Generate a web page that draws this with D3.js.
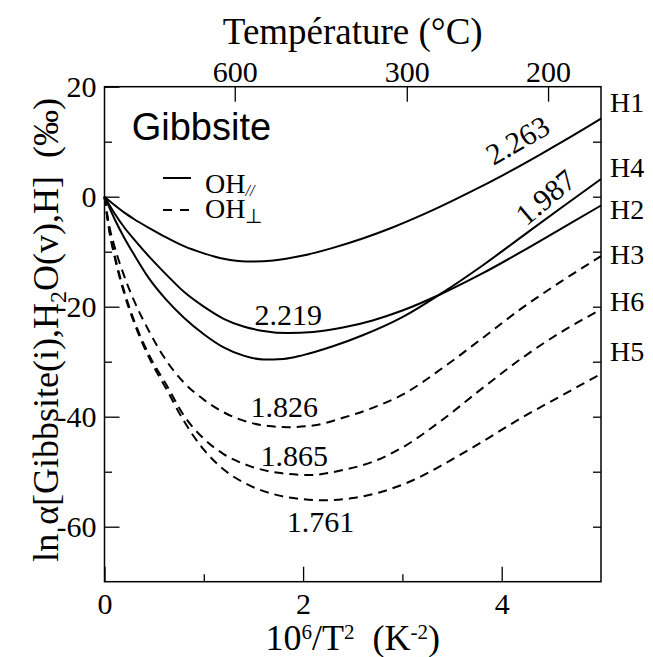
<!DOCTYPE html>
<html><head><meta charset="utf-8">
<script src="https://cdn.jsdelivr.net/npm/d3@7"></script>
<style>
html,body{margin:0;padding:0;background:#fff;}
svg text{font-family:"Liberation Serif","Times New Roman",serif;fill:#000;}
</style></head>
<body><svg id="c" width="653" height="657"></svg>
<script>
// ---- data ----
const H1 = [[0,0],[0.1,-1.5],[0.2,-2.9],[0.3,-4.1],[0.46,-5.8],[0.6,-7.2],[0.8,-9.0],[1.0,-10.3],[1.2,-11.3],[1.43,-11.8],[1.7,-11.6],[2.0,-10.7],[2.3,-9.3],[2.6,-7.6],[2.9,-5.6],[3.3,-2.5],[3.7,1.0],[4.0,3.8],[4.4,7.8],[4.8,12.0],[5.0,14.2]];
const H2 = [[0,0],[0.1,-3.0],[0.2,-5.6],[0.3,-7.8],[0.45,-10.9],[0.63,-14.3],[0.8,-17.3],[1.0,-20.0],[1.2,-22.2],[1.4,-23.6],[1.6,-24.4],[1.85,-24.8],[2.1,-24.6],[2.4,-23.8],[2.7,-22.5],[3.0,-20.7],[3.4,-17.6],[3.8,-14.0],[4.2,-10.0],[4.6,-5.8],[5.0,-1.6]];
const H4 = [[0,0],[0.1,-4.0],[0.2,-7.5],[0.3,-10.6],[0.45,-14.9],[0.63,-18.9],[0.8,-22.0],[1.0,-25.0],[1.2,-27.4],[1.4,-28.9],[1.6,-29.6],[1.8,-29.5],[2.0,-28.8],[2.3,-27.2],[2.6,-25.2],[3.0,-21.9],[3.4,-17.5],[3.8,-12.6],[4.2,-7.3],[4.6,-2.0],[5.0,3.2]];
const H3 = [[0,0],[0.05,-5.5],[0.1,-9.0],[0.2,-14.5],[0.3,-19.0],[0.45,-24.5],[0.63,-30.0],[0.8,-33.8],[1.0,-36.9],[1.2,-39.2],[1.45,-41.0],[1.65,-41.7],[1.85,-41.9],[2.1,-41.6],[2.4,-40.2],[2.7,-38.4],[3.0,-36.0],[3.4,-31.2],[3.8,-25.8],[4.2,-20.3],[4.6,-15.4],[5.0,-10.8]];
const H6 = [[0,0],[0.05,-6.2],[0.1,-10.5],[0.2,-17.3],[0.3,-22.6],[0.45,-28.8],[0.63,-34.4],[0.8,-39.8],[1.0,-44.0],[1.2,-46.8],[1.45,-48.9],[1.75,-50.2],[2.06,-50.6],[2.4,-49.7],[2.7,-48.2],[3.0,-45.6],[3.4,-40.6],[3.8,-34.9],[4.2,-29.4],[4.6,-24.6],[5.0,-20.5]];
const H5 = [[0,0],[0.05,-6.4],[0.1,-10.8],[0.2,-17.7],[0.3,-23.0],[0.45,-29.3],[0.63,-35.2],[0.8,-40.8],[1.0,-46.0],[1.2,-49.6],[1.45,-52.4],[1.75,-54.3],[2.0,-55.0],[2.2,-55.2],[2.5,-54.8],[2.8,-53.6],[3.1,-51.6],[3.4,-48.8],[3.8,-44.6],[4.2,-40.2],[4.6,-36.2],[5.0,-32.2]];
const seriesNames = ["H1","H4","H2","H3","H6","H5"];
const seriesValues = [H1,H4,H2,H3,H6,H5];
const seriesDashed = [false,false,false,true,true,true];
const curveLabels = ["2.263","1.987","2.219","1.826","1.865","1.761"];
const xTicksMajor = [0,2,4];
const xTicksMinor = [1,3];
const yTicksMajor = [20,0,-20,-40,-60];
const yTicksMinor = [10,-10,-30,-50];
const yRightTicks = [10,0,-10,-20,-30,-40,-50,-60];
const tempTicks = [600,300,200];

// ---- layout ----
const svg = d3.select("#c");
const L=104.5, R=601, T=86.7, B=581.7;
const x = d3.scaleLinear().domain([0,5]).range([L,R]);
const y = d3.scaleLinear().domain([-70,20]).range([B,T]);

// curves
const line = d3.line().x(d=>x(d[0])).y(d=>y(d[1])).curve(d3.curveMonotoneX);
const g = svg.append("g");
seriesValues.forEach((s,i)=>{
  g.append("path").attr("d",line(s)).attr("fill","none").attr("stroke","#000")
   .attr("stroke-width",2).attr("stroke-dasharray",seriesDashed[i]?"9,6":null);
});

// axes
function styleAxis(sel){
  sel.select(".domain").remove();
  sel.selectAll("line").attr("stroke","#000").attr("stroke-width",1.3);
  sel.selectAll("text").attr("font-family","Liberation Serif").attr("font-size",30).attr("fill","#000");
}
svg.append("g").attr("transform",`translate(0,${B})`)
  .call(d3.axisBottom(x).tickValues(xTicksMajor).tickSize(-15).tickPadding(10).tickFormat(d3.format("d")))
  .call(styleAxis).selectAll("text").attr("dy","0.75em");
svg.append("g").attr("transform",`translate(0,${B})`)
  .call(d3.axisBottom(x).tickValues(xTicksMinor).tickSize(-7.5).tickFormat(""))
  .call(styleAxis);
svg.append("g").attr("transform",`translate(${L},0)`)
  .call(d3.axisLeft(y).tickValues(yTicksMajor).tickSize(-15).tickPadding(8).tickFormat(d=>d<0?"-"+Math.abs(d):d))
  .call(styleAxis);
svg.append("g").attr("transform",`translate(${L},0)`)
  .call(d3.axisLeft(y).tickValues(yTicksMinor).tickSize(-7.5).tickFormat(""))
  .call(styleAxis);
svg.append("g").attr("transform",`translate(${R},0)`)
  .call(d3.axisRight(y).tickValues(yRightTicks).tickSize(-8).tickFormat(""))
  .call(styleAxis);
const tx = t => 1e6/Math.pow(t+273.15,2);
svg.append("g").attr("transform",`translate(0,${T})`)
  .call(d3.axisTop(x).tickValues(tempTicks.map(tx)).tickSize(-15).tickPadding(5).tickFormat((d,i)=>tempTicks[i]))
  .call(styleAxis);

// frame
svg.append("rect").attr("x",L).attr("y",T).attr("width",R-L).attr("height",B-T)
  .attr("fill","none").attr("stroke","#000").attr("stroke-width",1.5);

// titles
svg.append("text").attr("x",(L+R)/2).attr("y",44).attr("text-anchor","middle").attr("font-size",37)
  .text("Température (°C)");
const xt = svg.append("text").attr("x",(L+R)/2).attr("y",650).attr("text-anchor","middle").attr("font-size",36);
xt.append("tspan").text("10");
xt.append("tspan").attr("font-size",21).attr("dy",-11).text("6");
xt.append("tspan").attr("dy",11).text("/T");
xt.append("tspan").attr("font-size",21).attr("dy",-11).text("2");
xt.append("tspan").attr("dy",11).text("\u00a0 (K");
xt.append("tspan").attr("font-size",21).attr("dy",-11).text("-2");
xt.append("tspan").attr("dy",11).text(")");

const yt = svg.append("text").attr("transform",`translate(58,330) rotate(-90)`).attr("text-anchor","middle").attr("font-size",36);
yt.append("tspan").text("ln \u03b1[Gibbsite(i),H");
yt.append("tspan").attr("font-size",24).attr("dy",8).text("2");
yt.append("tspan").attr("dy",-8).text("O(v),H]\u00a0 (\u2030)");

// legend
svg.append("text").attr("x",131.7).attr("y",140)
  .style("font-family","'Liberation Sans',Arial,sans-serif").attr("font-size",38).text("Gibbsite");
svg.append("line").attr("x1",163).attr("x2",191).attr("y1",178).attr("y2",178).attr("stroke","#000").attr("stroke-width",2);
svg.append("line").attr("x1",163).attr("x2",191).attr("y1",210).attr("y2",210).attr("stroke","#000").attr("stroke-width",2).attr("stroke-dasharray","9,8");
const l1 = svg.append("text").attr("x",205).attr("y",192.7).attr("font-size",28);
l1.append("tspan").text("OH");
l1.append("tspan").attr("font-size",16).attr("font-style","italic").attr("dy",3).text("//");
const l2 = svg.append("text").attr("x",205).attr("y",218).attr("font-size",28);
l2.append("tspan").text("OH");
l2.append("tspan").attr("font-size",20).attr("dy",5).text("\u22a5");

// curve value labels (positions in data coords)
const labelPos = [[4.16,10.3,-30],[4.44,-0.05,-40],[1.85,-21.5,0],[1.81,-38.2,0],[1.91,-47.0,0],[2.175,-59.1,0]];
curveLabels.forEach((t,i)=>{
  const p = labelPos[i];
  svg.append("text").attr("transform",`translate(${x(p[0])},${y(p[1])}) rotate(${p[2]})`)
    .attr("text-anchor","middle").attr("dy","0.35em").attr("font-size",30).text(t);
});

// right series names
const nameY = [15.4,3.6,-4.0,-12.2,-20.8,-29.9];
seriesNames.forEach((n,i)=>{
  svg.append("text").attr("x",R+9).attr("y",y(nameY[i])).attr("font-size",28).text(n);
});
</script></body></html>
